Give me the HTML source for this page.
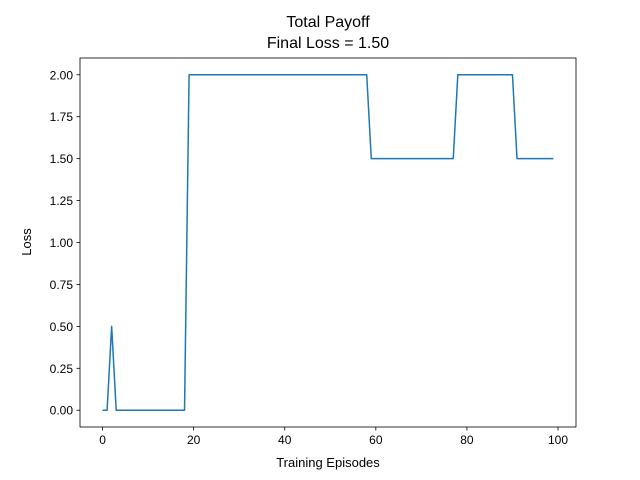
<!DOCTYPE html>
<html><head><meta charset="utf-8"><style>
html,body{margin:0;padding:0;background:#fff}
svg{display:block;font-family:"Liberation Sans","DejaVu Sans",sans-serif}
</style></head><body>
<svg id="chart" width="640" height="480" viewBox="0 0 640 480">
<rect x="0" y="0" width="640" height="480" fill="#fff"/>
<text x="328" y="27" text-anchor="middle" font-size="16">Total Payoff</text>
<text x="328" y="48" text-anchor="middle" font-size="16">Final Loss = 1.50</text>
<g id="ticks"></g>
<path id="line" fill="none" stroke="#1f77b4" stroke-width="1.5" stroke-linejoin="round"/>
<rect x="80" y="58" width="496" height="369" fill="none" stroke="#000" stroke-width="0.8"/>
<text x="328" y="467" text-anchor="middle" font-size="13">Training Episodes</text>
<text x="31" y="242" text-anchor="middle" font-size="13" transform="rotate(-90 31 242)">Loss</text>
</svg>
<script>
const values = [0,0,0.5,0,0,0,0,0,0,0,0,0,0,0,0,0,0,0,0,
  2,2,2,2,2,2,2,2,2,2,2,2,2,2,2,2,2,2,2,2,2,2,2,2,2,2,2,2,2,2,2,2,2,2,2,2,2,2,2,2,
  1.5,1.5,1.5,1.5,1.5,1.5,1.5,1.5,1.5,1.5,1.5,1.5,1.5,1.5,1.5,1.5,1.5,1.5,1.5,
  2,2,2,2,2,2,2,2,2,2,2,2,2,
  1.5,1.5,1.5,1.5,1.5,1.5,1.5,1.5,1.5];
const xTicks = [0,20,40,60,80,100];
const yTicks = [0,0.25,0.5,0.75,1.0,1.25,1.5,1.75,2.0];
const X0=80,X1=576,Y0=427,Y1=58;
const xmin=-4.95,xmax=103.95,ymin=-0.1,ymax=2.1;
function sx(v){return X0+(v-xmin)/(xmax-xmin)*(X1-X0);}
function sy(v){return Y0-(v-ymin)/(ymax-ymin)*(Y0-Y1);}
const ns="http://www.w3.org/2000/svg";
const g=document.getElementById('ticks');
xTicks.forEach(t=>{
  const l=document.createElementNS(ns,'line');
  l.setAttribute('x1',sx(t));l.setAttribute('x2',sx(t));l.setAttribute('y1',Y0);l.setAttribute('y2',Y0+3.5);
  l.setAttribute('stroke','#000');l.setAttribute('stroke-width','0.8');
  
  
  g.appendChild(l);
  const tx=document.createElementNS(ns,'text');
  tx.setAttribute('x',sx(t));tx.setAttribute('y',Y0+17);tx.setAttribute('text-anchor','middle');tx.setAttribute('font-size','12');
  tx.textContent=t;
  
  
  g.appendChild(tx);
});
yTicks.forEach(t=>{
  const l=document.createElementNS(ns,'line');
  l.setAttribute('x1',X0-3.5);l.setAttribute('x2',X0);l.setAttribute('y1',sy(t));l.setAttribute('y2',sy(t));
  l.setAttribute('stroke','#000');l.setAttribute('stroke-width','0.8');
  
  
  g.appendChild(l);
  const tx=document.createElementNS(ns,'text');
  tx.setAttribute('x',X0-7);tx.setAttribute('y',sy(t)+4.5);tx.setAttribute('text-anchor','end');tx.setAttribute('font-size','12');
  tx.textContent=t.toFixed(2);
  
  
  g.appendChild(tx);
});
document.getElementById('line').setAttribute('d',values.map((v,i)=>(i?'L':'M')+sx(i).toFixed(2)+','+sy(v).toFixed(2)).join(' '));
</script>
</body></html>
